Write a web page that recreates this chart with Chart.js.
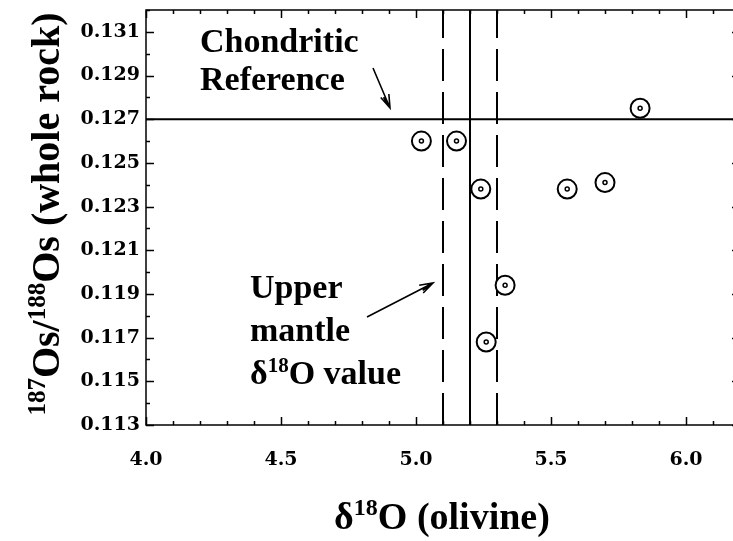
<!DOCTYPE html>
<html>
<head>
<meta charset="utf-8">
<script src="https://cdn.jsdelivr.net/npm/chart.js@4.4.1/dist/chart.umd.min.js"></script>
<style>
  html, body { margin: 0; padding: 0; background: #fff; overflow: hidden; }
  #wrap { width: 733px; height: 541px; overflow: hidden; }
  #c { display: block; }
</style>
</head>
<body>
<div id="wrap"><canvas id="c" width="740" height="541"></canvas></div>
<script>
// Olivine oxygen isotopes vs whole-rock osmium isotopes
const d18O    = [5.02, 5.15, 5.24, 5.56, 5.70, 5.83, 5.33, 5.26];
const osRatio = [0.1260, 0.1260, 0.1238, 0.1238, 0.1241, 0.1275, 0.1194, 0.1168];

// Reference values
const chondriticOs = 0.127;
const mantleD18O = 5.2;
const mantleBand = [5.1, 5.3];

// Axes (the frame runs slightly past the right edge of the page)
const xRange = [4.0, 6.2];
const yRange = [0.113, 0.132];
const xTicks = [4.0, 4.5, 5.0, 5.5, 6.0];
const yTicks = [0.113, 0.115, 0.117, 0.119, 0.121, 0.123, 0.125, 0.127, 0.129, 0.131];
const xMinorStep = 0.1;
const yMinorStep = 0.001;

const SERIF = '"Liberation Serif", "Times New Roman", serif';
const TICKFONT = '"DejaVu Serif", serif';

const points = d18O.map((x, i) => ({ x: x, y: osRatio[i] }));

function vLine(x) { return [{ x: x, y: yRange[0] }, { x: x, y: yRange[1] }]; }

// Frame with inward major/minor ticks on all four sides
const framePlugin = {
  id: 'frame',
  afterDatasetsDraw(chart) {
    const { ctx, chartArea: a, scales: { x, y } } = chart;
    ctx.save();
    ctx.strokeStyle = '#000';
    ctx.lineWidth = 1.5;
    ctx.strokeRect(a.left, a.top, a.right - a.left, a.bottom - a.top);
    ctx.beginPath();
    const nx = Math.round((xRange[1] - xRange[0]) / xMinorStep);
    for (let i = 0; i <= nx; i++) {
      const v = xRange[0] + i * xMinorStep;
      const major = xTicks.some(t => Math.abs(t - v) < 1e-6);
      const len = major ? 8 : 4;
      const px = Math.round(x.getPixelForValue(v)) + 0.5;
      ctx.moveTo(px, a.bottom); ctx.lineTo(px, a.bottom - len);
      ctx.moveTo(px, a.top); ctx.lineTo(px, a.top + len);
    }
    const ny = Math.round((yRange[1] - yRange[0]) / yMinorStep);
    for (let i = 0; i <= ny; i++) {
      const v = yRange[0] + i * yMinorStep;
      const major = yTicks.some(t => Math.abs(t - v) < 1e-9);
      const len = major ? 8 : 4;
      const py = Math.round(y.getPixelForValue(v)) + 0.5;
      ctx.moveTo(a.left, py); ctx.lineTo(a.left + len, py);
      ctx.moveTo(a.right, py); ctx.lineTo(a.right - len, py);
    }
    ctx.stroke();
    ctx.restore();
  }
};

// Text with superscript pieces: parts = [[text, isSup], ...]
function partsWidth(ctx, parts, size) {
  let w = 0;
  parts.forEach(([t, sup]) => {
    ctx.font = 'bold ' + (sup ? Math.round(size * 0.62) : size) + 'px ' + SERIF;
    w += ctx.measureText(t).width;
  });
  return w;
}
function drawParts(ctx, parts, x, y, size) {
  let cx = x;
  parts.forEach(([t, sup]) => {
    const s = sup ? Math.round(size * 0.62) : size;
    ctx.font = 'bold ' + s + 'px ' + SERIF;
    ctx.fillText(t, cx, sup ? y - size * 0.36 : y);
    cx += ctx.measureText(t).width;
  });
}
function arrow(ctx, x0, y0, x1, y1) {
  const ang = Math.atan2(y1 - y0, x1 - x0);
  const L = 14, spread = 0.32;
  ctx.beginPath();
  ctx.moveTo(x0, y0); ctx.lineTo(x1, y1);
  ctx.moveTo(x1 - L * Math.cos(ang - spread), y1 - L * Math.sin(ang - spread));
  ctx.lineTo(x1, y1);
  ctx.lineTo(x1 - L * Math.cos(ang + spread), y1 - L * Math.sin(ang + spread));
  ctx.moveTo(x1 - L * 0.9 * Math.cos(ang - spread * 0.45), y1 - L * 0.9 * Math.sin(ang - spread * 0.45));
  ctx.lineTo(x1, y1);
  ctx.stroke();
}

// Axis titles and annotations
const labelPlugin = {
  id: 'labels',
  afterDraw(chart) {
    const { ctx } = chart;
    ctx.save();
    ctx.fillStyle = '#000';
    ctx.strokeStyle = '#000';
    ctx.lineWidth = 1.6;
    ctx.textBaseline = 'alphabetic';
    ctx.textAlign = 'left';

    // x-axis title
    const xt = [['\u03b4', false], ['18', true], ['O (olivine)', false]];
    const xs = 38;
    const xw = partsWidth(ctx, xt, xs);
    drawParts(ctx, xt, 442 - xw / 2, 529, xs);

    // y-axis title (rotated)
    const yt = [['187', true], ['Os/', false], ['188', true], ['Os (whole rock)', false]];
    const ys = 40;
    const yw = partsWidth(ctx, yt, ys);
    ctx.save();
    ctx.translate(59, 214);
    ctx.rotate(-Math.PI / 2);
    drawParts(ctx, yt, -yw / 2, 0, ys);
    ctx.restore();

    // Chondritic reference note
    const as = 34;
    ctx.font = 'bold ' + as + 'px ' + SERIF;
    ctx.fillText('Chondritic', 200, 52);
    ctx.fillText('Reference', 200, 90);
    arrow(ctx, 373, 68, 390, 108);

    // Upper mantle note
    ctx.font = 'bold ' + as + 'px ' + SERIF;
    ctx.fillText('Upper', 250, 298);
    ctx.fillText('mantle', 250, 341);
    drawParts(ctx, [['\u03b4', false], ['18', true], ['O value', false]], 250, 384, as);
    arrow(ctx, 367, 317, 433, 283);
    ctx.restore();
  }
};

new Chart(document.getElementById('c'), {
  type: 'scatter',
  data: {
    datasets: [
      { data: points, pointStyle: 'circle', pointRadius: 2, pointHoverRadius: 2,
        borderWidth: 1.5, borderColor: '#000', backgroundColor: '#fff', order: 0 },
      { data: points, pointStyle: 'circle', pointRadius: 9.5, pointHoverRadius: 9.5,
        borderWidth: 2, borderColor: '#000', backgroundColor: '#fff', order: 1 },
      { data: [{ x: xRange[0], y: chondriticOs }, { x: xRange[1], y: chondriticOs }],
        showLine: true, pointRadius: 0, borderColor: '#000', borderWidth: 2, order: 2 },
      { data: vLine(mantleD18O), showLine: true, pointRadius: 0,
        borderColor: '#000', borderWidth: 2, order: 2 },
      { data: vLine(mantleBand[0]), showLine: true, pointRadius: 0,
        borderColor: '#000', borderWidth: 2, borderDash: [32, 11], order: 2 },
      { data: vLine(mantleBand[1]), showLine: true, pointRadius: 0,
        borderColor: '#000', borderWidth: 2, borderDash: [32, 11], order: 2 }
    ]
  },
  options: {
    responsive: false,
    animation: false,
    devicePixelRatio: 1,
    layout: { autoPadding: false, padding: { left: 0, right: 0, top: 10, bottom: 0 } },
    plugins: { legend: { display: false }, tooltip: { enabled: false } },
    events: [],
    scales: {
      x: {
        type: 'linear', min: xRange[0], max: xRange[1],
        afterBuildTicks: s => { s.ticks = xTicks.map(v => ({ value: v })); },
        afterFit: s => { s.height = 116; s.paddingLeft = 0; s.paddingRight = 0; },
        grid: { display: false, drawTicks: false },
        border: { display: false },
        ticks: {
          callback: v => Number(v).toFixed(1),
          color: '#000', padding: 24, maxRotation: 0, autoSkip: false,
          font: { family: TICKFONT, weight: 'bold', size: 19 }
        }
      },
      y: {
        type: 'linear', min: yRange[0], max: yRange[1],
        afterBuildTicks: s => { s.ticks = yTicks.map(v => ({ value: v })); },
        afterFit: s => { s.width = 146; s.paddingTop = 0; s.paddingBottom = 0; },
        grid: { display: false, drawTicks: false },
        border: { display: false },
        ticks: {
          callback: v => Number(v).toFixed(3),
          color: '#000', padding: 6, autoSkip: false,
          font: { family: TICKFONT, weight: 'bold', size: 19 }
        }
      }
    }
  },
  plugins: [framePlugin, labelPlugin]
});
</script>
</body>
</html>
